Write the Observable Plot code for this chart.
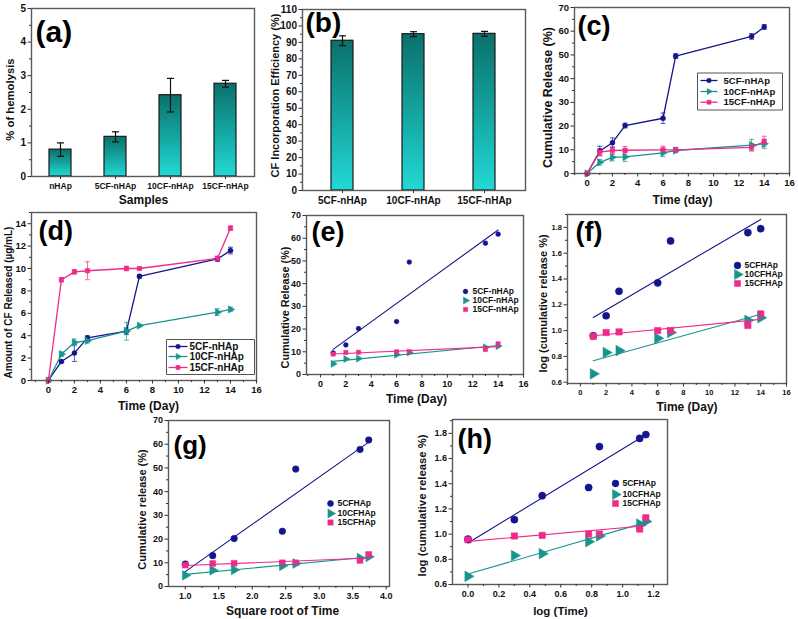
<!DOCTYPE html>
<html><head><meta charset="utf-8">
<script src="https://cdn.jsdelivr.net/npm/d3@7"></script>
<script src="https://cdn.jsdelivr.net/npm/@observablehq/plot@0.6"></script>
<style>
body{margin:0;background:#fff;}
#root{position:relative;width:798px;height:619px;overflow:hidden;background:#fff;}
</style></head><body><div id="root"></div>
<script>
// ---------- data ----------
const hemoSamples = ["nHAp", "5CF-nHAp", "10CF-nHAp", "15CF-nHAp"];
const hemoValues = [0.8, 1.18, 2.42, 2.76];
const hemoErrors = [0.2, 0.15, 0.5, 0.1];

const effSamples = ["5CF-nHAp", "10CF-nHAp", "15CF-nHAp"];
const effValues = [91, 95, 95.2];
const effErrors = [3, 1.5, 1.5];

const seriesNames = ["5CF-nHAp", "10CF-nHAp", "15CF-nHAp"];
const seriesShort = ["5CFHAp", "10CFHAp", "15CFHAp"];

const days = [0, 1, 2, 3, 6, 7, 13, 14];
const rel5 = [0, 9.5, 13, 20.2, 23.3, 49.5, 57.8, 61.8];
const rel10 = [0, 4.7, 6.8, 7.0, 8.7, 9.7, 12.0, 12.5];
const rel15 = [0, 9.0, 9.7, 9.8, 10.0, 10.0, 11.0, 13.5];
const relErr5 = [0, 2, 2, 1, 2.2, 1, 1.2, 1];
const relErr10 = [0, 1.2, 1.5, 2, 1.6, 1, 2.4, 2];
const relErr15 = [0, 1.5, 1.6, 1.6, 1.5, 1, 1.5, 2.2];

const amt5 = [0, 1.7, 2.45, 3.8, 4.4, 9.3, 10.85, 11.6];
const amt10 = [0, 2.35, 3.4, 3.55, 4.4, 4.9, 6.1, 6.35];
const amt15 = [0, 9.0, 9.7, 9.8, 10.0, 10.0, 10.9, 13.6];
const amtErr5 = [0, 0.1, 0.75, 0.2, 0.3, 0.15, 0.2, 0.3];
const amtErr10 = [0, 0.2, 0.3, 0.2, 0.8, 0.1, 0.3, 0.2];
const amtErr15 = [0, 0.2, 0.2, 0.8, 0.2, 0.1, 0.2, 0.2];

const fitDays = [1, 2, 3, 6, 7, 13, 14];
const fit5 = [9.5, 13, 20.2, 23.3, 49.5, 57.8, 61.8];
const fit10 = [4.7, 6.8, 7.0, 8.7, 9.7, 12.0, 12.5];
const fit15 = [9.0, 9.7, 9.8, 10.0, 10.0, 11.0, 13.5];
const logRel5 = [0.96, 1.115, 1.305, 1.37, 1.695, 1.76, 1.79];
const logRel10 = [0.665, 0.83, 0.845, 0.94, 0.985, 1.08, 1.1];
const logRel15 = [0.955, 0.985, 0.99, 1.0, 1.0, 1.04, 1.13];
const sqrtDays = [1, 1.41, 1.73, 2.45, 2.65, 3.61, 3.74];
const logDays = [0, 0.30, 0.48, 0.78, 0.85, 1.11, 1.15];

// ---------- style ----------
const NAVY = "#14148c", TEAL = "#18948c", PINK = "#ee2a8a";
const COLORS = [NAVY, TEAL, PINK];
const SYMBOLS = ["circle", "triangle", "square"];
const ROT = [0, 90, 0];
const FONT = "'Liberation Sans', Arial, Helvetica, sans-serif";
const root = document.getElementById("root");

function place(svg, left, top) {
  svg.style.position = "absolute";
  svg.style.left = left + "px";
  svg.style.top = top + "px";
  root.appendChild(svg);
}
function basePlot(opts) {
  return Plot.plot({...opts, style: {fontFamily: FONT, fontWeight: "bold", fontSize: "9px", color: "#111", background: "transparent", overflow: "visible"}});
}
const hline = (w) => ({draw(ctx) { ctx.moveTo(-w / 2, 0); ctx.lineTo(w / 2, 0); }});
const rectSym = (w, h) => ({draw(ctx) { ctx.rect(-w / 2, -h / 2, w, h); }});
const range = (a, b, s) => d3.range(a, b + s / 2, s).map(v => +v.toFixed(3));

function gradDefs(id) {
  return () => {
    const ns = "http://www.w3.org/2000/svg";
    const defs = document.createElementNS(ns, "defs");
    const lg = document.createElementNS(ns, "linearGradient");
    lg.setAttribute("id", id);
    lg.setAttribute("x1", "0"); lg.setAttribute("y1", "0");
    lg.setAttribute("x2", "0"); lg.setAttribute("y2", "1");
    [["0%", "#0b706b"], ["55%", "#15a9a5"], ["100%", "#22d9d5"]].forEach(([o, c]) => {
      const s = document.createElementNS(ns, "stop");
      s.setAttribute("offset", o); s.setAttribute("stop-color", c);
      lg.appendChild(s);
    });
    defs.appendChild(lg);
    return defs;
  };
}
function panelLabel(t, dx, dy, size = 27) {
  return Plot.text([t], {frameAnchor: "top-left", dx, dy, text: d => d, textAnchor: "start", lineAnchor: "middle", fontSize: size, fontWeight: "bold", fill: "#000"});
}
function yTitle(t, dx, dy, size) {
  return Plot.text([t], {frameAnchor: "left", dx, dy, rotate: -90, text: d => d, textAnchor: "middle", lineAnchor: "middle", fontSize: size, fill: "#111"});
}
function xTitle(t, dx, dy, size) {
  return Plot.text([t], {frameAnchor: "bottom", dx, dy, text: d => d, textAnchor: "middle", lineAnchor: "middle", fontSize: size, fill: "#111"});
}
function frame() { return Plot.frame({stroke: "#5a5a5a", strokeWidth: 1.4}); }
function numAxes({xt, xm, yt, ym, xfmt, yfmt, xfs = 9, yfs = 9}) {
  const m = [];
  if (xt) m.push(Plot.axisX(xt, {tickSize: 3.5, tickPadding: 2.5, label: null, tickFormat: xfmt, fontSize: xfs, stroke: "#333"}));
  if (xm) m.push(Plot.axisX(xm, {tickSize: 2, tickFormat: () => "", label: null, stroke: "#333"}));
  m.push(Plot.axisY(yt, {tickSize: 3.5, tickPadding: 2, label: null, tickFormat: yfmt, fontSize: yfs, stroke: "#333"}));
  if (ym) m.push(Plot.axisY(ym, {tickSize: 2, tickFormat: () => "", label: null, stroke: "#333"}));
  return m;
}
const rows = (xs, ys, es) => xs.map((x, i) => ({x, y: ys[i], e: es ? es[i] : 0}));

// ---------- (a) ----------
{
  const data = hemoSamples.map((s, i) => ({s, v: hemoValues[i], e: hemoErrors[i]}));
  place(basePlot({
    width: 262, height: 208, marginLeft: 31, marginTop: 8, marginRight: 8, marginBottom: 32,
    x: {domain: hemoSamples, paddingInner: 0.6, paddingOuter: 0.3},
    y: {domain: [0, 5]},
    marks: [
      gradDefs("gradA"),
      Plot.barY(data, {x: "s", y: "v", fill: "url(#gradA)", stroke: "#1a1a1a", strokeWidth: 1.2}),
      Plot.ruleX(data, {x: "s", y1: d => d.v - d.e, y2: d => d.v + d.e, stroke: "#111", strokeWidth: 1.2}),
      Plot.dot(data, {x: "s", y: d => d.v - d.e, symbol: hline(7), fill: "none", stroke: "#111", strokeWidth: 1.2}),
      Plot.dot(data, {x: "s", y: d => d.v + d.e, symbol: hline(7), fill: "none", stroke: "#111", strokeWidth: 1.2}),
      frame(),
      Plot.axisX({tickSize: 3, tickPadding: 3, label: null, fontSize: 8.5, stroke: "#333"}),
      Plot.axisY(range(0, 5, 1), {tickSize: 3.5, tickPadding: 2, label: null, fontSize: 10, stroke: "#333"}),
      Plot.axisY(range(0.5, 4.5, 1), {tickSize: 2, tickFormat: () => "", label: null, stroke: "#333"}),
      yTitle("% of hemolysis", -21.5, 7, 11.3),
      xTitle("Samples", 0.5, 24, 12),
      panelLabel("(a)", 4, 24, 30)
    ]
  }), 0, 0);
}

// ---------- (b) ----------
{
  const data = effSamples.map((s, i) => ({s, v: effValues[i], e: effErrors[i]}));
  place(basePlot({
    width: 268, height: 208, marginLeft: 40, marginTop: 9, marginRight: 5, marginBottom: 18,
    x: {domain: effSamples, paddingInner: 0.69, paddingOuter: 0.4},
    y: {domain: [0, 110]},
    marks: [
      gradDefs("gradB"),
      Plot.barY(data, {x: "s", y: "v", fill: "url(#gradB)", stroke: "#1a1a1a", strokeWidth: 1.2}),
      Plot.ruleX(data, {x: "s", y1: d => d.v - d.e, y2: d => d.v + d.e, stroke: "#111", strokeWidth: 1.2}),
      Plot.dot(data, {x: "s", y: d => d.v - d.e, symbol: hline(7), fill: "none", stroke: "#111", strokeWidth: 1.2}),
      Plot.dot(data, {x: "s", y: d => d.v + d.e, symbol: hline(7), fill: "none", stroke: "#111", strokeWidth: 1.2}),
      frame(),
      Plot.axisX({tickSize: 3, tickPadding: 3, label: null, fontSize: 10, stroke: "#333"}),
      Plot.axisY(range(0, 110, 10), {tickSize: 3.5, tickPadding: 2, label: null, fontSize: 10, stroke: "#333"}),
      Plot.axisY(range(5, 105, 10), {tickSize: 2, tickFormat: () => "", label: null, stroke: "#333"}),
      yTitle("CF Incorporation Efficiency (%)", -27.5, -4.5, 11),
      panelLabel("(b)", 3, 14, 28)
    ]
  }), 262, 0);
}

// ---------- series with error bars ----------
function seriesMarks(xs, ysList, esList, r) {
  const m = [];
  ysList.forEach((ys, i) => {
    const data = rows(xs, ys, esList[i]);
    const eb = data.filter(d => d.e > 0);
    m.push(Plot.line(data, {x: "x", y: "y", stroke: COLORS[i], strokeWidth: 1.3}));
    m.push(Plot.ruleX(eb, {x: "x", y1: d => d.y - d.e, y2: d => d.y + d.e, stroke: COLORS[i], strokeOpacity: 0.7, strokeWidth: 1}));
    m.push(Plot.dot(eb, {x: "x", y: d => d.y - d.e, symbol: hline(5), fill: "none", stroke: COLORS[i], strokeOpacity: 0.7, strokeWidth: 1}));
    m.push(Plot.dot(eb, {x: "x", y: d => d.y + d.e, symbol: hline(5), fill: "none", stroke: COLORS[i], strokeOpacity: 0.7, strokeWidth: 1}));
  });
  ysList.forEach((ys, i) => {
    m.push(Plot.dot(rows(xs, ys), {x: "x", y: "y", symbol: SYMBOLS[i], rotate: ROT[i], r: i === 1 ? r * 1.1 : r, fill: COLORS[i], stroke: COLORS[i], strokeWidth: 0.5}));
  });
  return m;
}
function boxLegend({bx, by, bw, bh, lx, lw, tx, rowsDy, fs, r}) {
  const m = [Plot.dot([0], {frameAnchor: "top-left", dx: bx, dy: by, symbol: rectSym(bw, bh), fill: "#fff", stroke: "#555", strokeWidth: 1})];
  seriesNames.forEach((name, i) => {
    m.push(Plot.dot([0], {frameAnchor: "top-left", dx: lx, dy: rowsDy[i], symbol: hline(lw), fill: "none", stroke: COLORS[i], strokeWidth: 1.3}));
    m.push(Plot.dot([0], {frameAnchor: "top-left", dx: lx, dy: rowsDy[i], symbol: SYMBOLS[i], rotate: ROT[i], r, fill: COLORS[i], stroke: COLORS[i], strokeWidth: 0.5}));
    m.push(Plot.text([name], {frameAnchor: "top-left", dx: tx, dy: rowsDy[i], text: d => d, textAnchor: "start", lineAnchor: "middle", fontSize: fs, fill: "#111"}));
  });
  return m;
}
function dotLegend(names, {mx, tx, rowsDy, fs, r}) {
  const m = [];
  names.forEach((name, i) => {
    m.push(Plot.dot([0], {frameAnchor: "top-left", dx: mx, dy: rowsDy[i], symbol: SYMBOLS[i], rotate: ROT[i], r: i === 1 ? r * 1.1 : r, fill: COLORS[i], stroke: COLORS[i], strokeWidth: 0.5}));
    m.push(Plot.text([name], {frameAnchor: "top-left", dx: tx, dy: rowsDy[i], text: d => d, textAnchor: "start", lineAnchor: "middle", fontSize: fs, fill: "#111"}));
  });
  return m;
}
function fitMarks(xs, ysList, r) {
  const m = [];
  ysList.forEach((ys, i) => {
    m.push(Plot.dot(rows(xs, ys), {x: "x", y: "y", symbol: SYMBOLS[i], rotate: ROT[i], r: i === 1 ? r * 1.1 : r, fill: COLORS[i], stroke: COLORS[i], strokeWidth: 0.5}));
  });
  ysList.forEach((ys, i) => {
    m.push(Plot.linearRegressionY(rows(xs, ys), {x: "x", y: "y", ci: 0, stroke: COLORS[i], strokeWidth: 1.1}));
  });
  return m;
}
const dayTicks = range(0, 16, 2), dayMinor = range(-1, 15, 2);

// ---------- (c) ----------
place(basePlot({
  width: 268, height: 208, marginLeft: 44, marginTop: 7, marginRight: 9, marginBottom: 35,
  x: {domain: [-1, 16]}, y: {domain: [0, 70]},
  marks: [
    ...seriesMarks(days, [rel5, rel10, rel15], [relErr5, relErr10, relErr15], 2.5),
    frame(),
    ...numAxes({xt: dayTicks, xm: dayMinor, yt: range(0, 70, 10), ym: range(5, 65, 10), xfs: 9.5, yfs: 9.5}),
    ...boxLegend({bx: 165.5, by: 84, bw: 85, bh: 37, lx: 134.5, lw: 17, tx: 149, rowsDy: [73, 84, 94.7], fs: 9.5, r: 2.3}),
    yTitle("Cumulative Release (%)", -26.5, 7, 12.5),
    xTitle("Time (day)", 0.5, 27, 12),
    panelLabel("(c)", 3, 19, 27)
  ]
}), 530, 0);

// ---------- (d) ----------
place(basePlot({
  width: 265, height: 210, marginLeft: 31, marginTop: 7, marginRight: 9, marginBottom: 35,
  x: {domain: [-1.3, 16]}, y: {domain: [0, 15]},
  marks: [
    ...seriesMarks(days, [amt5, amt10, amt15], [amtErr5, amtErr10, amtErr15], 2.5),
    frame(),
    ...numAxes({xt: dayTicks, xm: dayMinor, yt: range(0, 14, 2), ym: range(1, 15, 2), xfs: 9.5, yfs: 9.5}),
    ...boxLegend({bx: 179, by: 144.5, bw: 88, bh: 35, lx: 146.5, lw: 19, tx: 158, rowsDy: [134, 144, 155], fs: 10, r: 2.3}),
    yTitle("Amount of CF Released (µg/mL)", -23, 6, 10),
    xTitle("Time (Day)", 4.5, 26, 12),
    panelLabel("(d)", 7, 19, 27)
  ]
}), 0, 205);

// ---------- (e) ----------
place(basePlot({
  width: 265, height: 205, marginLeft: 41, marginTop: 10, marginRight: 7, marginBottom: 36,
  x: {domain: [-1.1, 16]}, y: {domain: [0, 70]},
  marks: [
    ...fitMarks(fitDays, [fit5, fit10, fit15], 2.4),
    frame(),
    ...numAxes({xt: dayTicks, xm: dayMinor, yt: range(0, 70, 10), ym: range(5, 65, 10), xfs: 9, yfs: 9}),
    ...dotLegend(seriesNames, {mx: 159, tx: 166, rowsDy: [76, 85, 94], fs: 8.5, r: 2.4}),
    yTitle("Cumulative Release (%)", -21, 12.5, 10.8),
    xTitle("Time (Day)", 1.5, 25, 12),
    panelLabel("(e)", 5, 17, 27)
  ]
}), 265, 205);

// ---------- (f) ----------
place(basePlot({
  width: 268, height: 205, marginLeft: 37, marginTop: 9, marginRight: 12, marginBottom: 27,
  x: {domain: [-1, 16]}, y: {domain: [0.59, 1.9]},
  marks: [
    ...fitMarks(fitDays, [logRel5, logRel10, logRel15], 3.6),
    frame(),
    ...numAxes({xt: dayTicks, xm: dayMinor, yt: range(0.6, 1.8, 0.2), ym: range(0.7, 1.9, 0.2), yfmt: d => d.toFixed(1), xfs: 7.5, yfs: 7.5}),
    ...dotLegend(seriesShort, {mx: 170, tx: 177, rowsDy: [51, 60, 69], fs: 8.5, r: 3.4}),
    yTitle("log (cumulative release %)", -24, 4.5, 11),
    xTitle("Time (Day)", 10, 23.5, 12),
    panelLabel("(f)", 8, 18, 27)
  ]
}), 530, 205);

// ---------- (g) ----------
place(basePlot({
  width: 290, height: 209, marginLeft: 38, marginTop: 10, marginRight: 31, marginBottom: 33,
  x: {domain: [0.75, 4.05]}, y: {domain: [0, 70]},
  marks: [
    ...fitMarks(sqrtDays, [fit5, fit10, fit15], 3.3),
    frame(),
    ...numAxes({xt: range(1, 4, 0.5), xm: range(1.25, 3.75, 0.5), yt: range(0, 70, 10), ym: range(5, 65, 10), xfmt: d => d.toFixed(1), xfs: 9, yfs: 9}),
    ...dotLegend(seriesShort, {mx: 162, tx: 169, rowsDy: [83, 93, 102], fs: 8.5, r: 3}),
    yTitle("Cumulative release (%)", -26, 6, 11),
    xTitle("Square root of Time", 3.5, 25, 12),
    panelLabel("(g)", 5, 25, 26)
  ]
}), 130, 410);

// ---------- (h) ----------
place(basePlot({
  width: 383, height: 209, marginLeft: 37, marginTop: 9, marginRight: 131, marginBottom: 35,
  x: {domain: [-0.1, 1.29]}, y: {domain: [0.6, 1.91]},
  marks: [
    ...fitMarks(logDays, [logRel5, logRel10, logRel15], 3.6),
    frame(),
    ...numAxes({xt: range(0, 1.2, 0.2), xm: range(0.1, 1.1, 0.2), yt: range(0.6, 1.8, 0.2), ym: range(0.7, 1.9, 0.2), xfmt: d => d.toFixed(1), yfmt: d => d.toFixed(1), xfs: 9, yfs: 9}),
    ...dotLegend(seriesShort, {mx: 163, tx: 170, rowsDy: [64, 75, 84], fs: 8.5, r: 3.4}),
    yTitle("log (cumulative release %)", -30, 3.5, 11.3),
    xTitle("log (Time)", 0.5, 27, 11.5),
    panelLabel("(h)", 5, 20, 27)
  ]
}), 415, 410);
</script></body></html>
